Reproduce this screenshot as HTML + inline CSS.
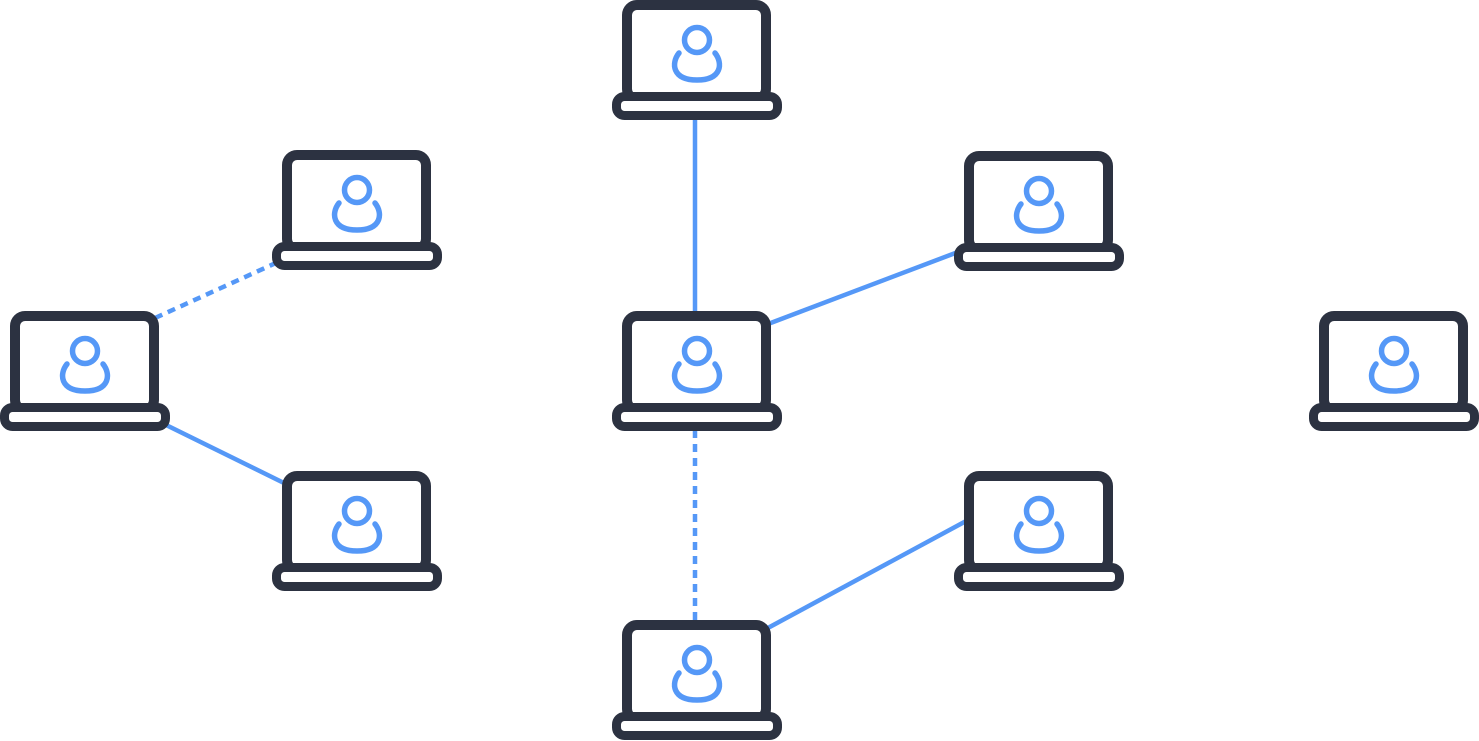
<!DOCTYPE html>
<html><head><style>html,body{margin:0;padding:0;background:#fff}svg{display:block}</style></head>
<body>
<svg width="1479" height="741" viewBox="0 0 1479 741" xmlns="http://www.w3.org/2000/svg">
<defs>
<g id="lap">
<rect x="5" y="5" width="139" height="94" rx="10" fill="#fff" stroke="#2c3241" stroke-width="10"/>
<rect x="-5.5" y="96.5" width="161" height="19" rx="8" fill="#fff" stroke="#2c3241" stroke-width="9"/>
<circle cx="75" cy="40" r="12.5" fill="none" stroke="#5598f7" stroke-width="5.5"/>
<path d="M57 53 C49 63 50 80 75 80 C100 80 101 63 93 53" fill="none" stroke="#5598f7" stroke-width="5.5" stroke-linecap="round"/>
</g>
</defs>
<g stroke="#5598f7" stroke-width="4.5" fill="none">
<line x1="695" y1="115" x2="695" y2="315"/>
<line x1="768" y1="324" x2="958" y2="252"/>
<line x1="695" y1="430" x2="695" y2="620" stroke-dasharray="8,6"/>
<line x1="766" y1="629" x2="968" y2="520"/>
<line x1="155" y1="318" x2="278" y2="262" stroke-dasharray="8,6"/>
<line x1="162" y1="423" x2="286" y2="484"/>
</g>
<use href="#lap" x="622" y="0"/>
<use href="#lap" x="282" y="150"/>
<use href="#lap" x="964" y="151"/>
<use href="#lap" x="10" y="311"/>
<use href="#lap" x="622" y="311"/>
<use href="#lap" x="1319" y="311"/>
<use href="#lap" x="282" y="471"/>
<use href="#lap" x="964" y="471"/>
<use href="#lap" x="622" y="620"/>
</svg>
</body></html>
